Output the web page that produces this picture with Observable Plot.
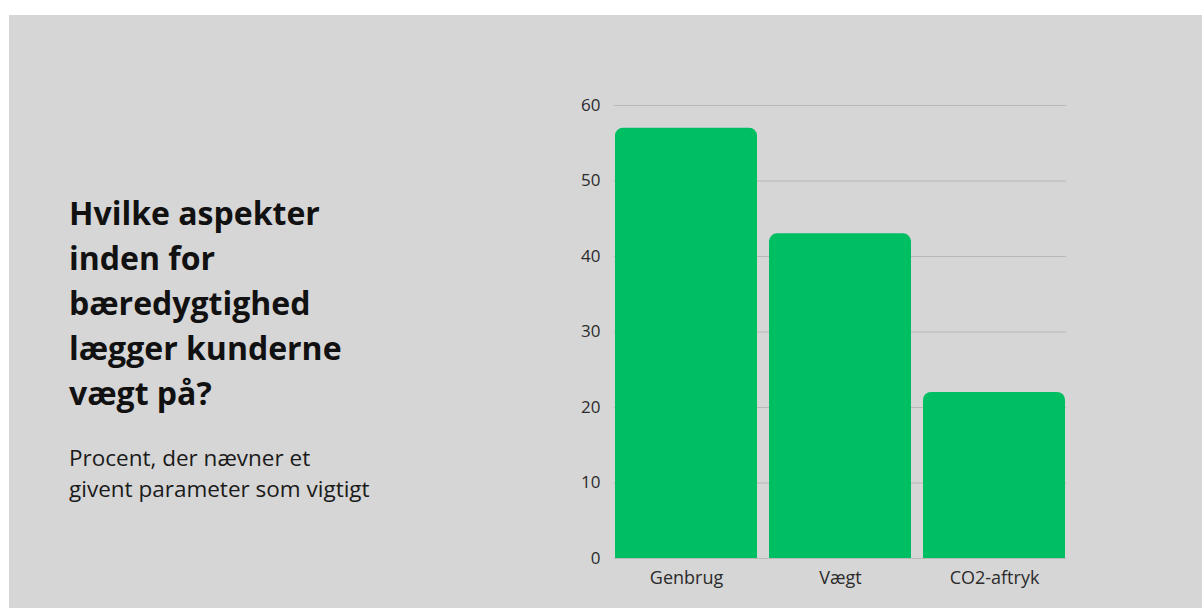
<!DOCTYPE html>
<html>
<head>
<meta charset="utf-8">
<script src="https://cdn.jsdelivr.net/npm/d3@7"></script>
<script src="https://cdn.jsdelivr.net/npm/@observablehq/plot@0.6"></script>
<style>
  html, body { margin: 0; padding: 0; background: #ffffff; width: 1202px; height: 608px; overflow: hidden; }
  #panel { position: absolute; left: 9px; top: 15px; right: 0; bottom: 0; background: #d6d6d6; }
  #title { position: absolute; left: 69px; top: 190px; margin: 0; font-family: "Open Sans", sans-serif; font-weight: 700; font-size: 32px; line-height: 45px; color: #111; }
  #subtitle { position: absolute; left: 69px; top: 442px; margin: 0; font-family: "Open Sans", sans-serif; font-weight: 400; font-size: 22.5px; line-height: 31px; color: #1a1a1a; }
  #chart { position: absolute; left: 540px; top: 80px; }
</style>
</head>
<body>
<div id="panel"></div>
<h1 id="title">Hvilke aspekter<br>inden for<br>bæredygtighed<br>lægger kunderne<br>vægt på?</h1>
<p id="subtitle">Procent, der nævner et<br>givent parameter som vigtigt</p>
<div id="chart"></div>
<script>
const categories = ["Genbrug", "Vægt", "CO2-aftryk"];
const values = [57, 43, 22];
const yTicks = [0, 10, 20, 30, 40, 50, 60];

const data = categories.map((c, i) => ({category: c, value: values[i]}));
const green = "#00bf63";

const chart = Plot.plot({
  width: 560,
  height: 528,
  marginLeft: 74,
  marginRight: 34,
  marginTop: 25,
  marginBottom: 50,
  style: {background: "transparent", fontFamily: "Open Sans, sans-serif", fontSize: "17px", color: "#2b2b2b"},
  x: {domain: categories, paddingInner: 0.08, paddingOuter: 0, label: null},
  y: {domain: [0, 60], label: null},
  marks: [
    Plot.gridY(yTicks, {stroke: "#b8b8b8", strokeOpacity: 1, strokeWidth: 1}),
    Plot.barY(data, {x: "category", y: "value", fill: green, rx: 8}),
    Plot.barY(data, {x: "category", y1: 0, y2: d => d.value / 2, fill: green}),
    Plot.axisX({tickSize: 0, tickPadding: 12.5, label: null, fill: "#2b2b2b", fontSize: 18}),
    Plot.axisY({ticks: yTicks, tickSize: 0, tickPadding: 14, label: null, fill: "#2b2b2b", fontSize: 17})
  ]
});
document.getElementById("chart").appendChild(chart);
</script>
</body>
</html>
